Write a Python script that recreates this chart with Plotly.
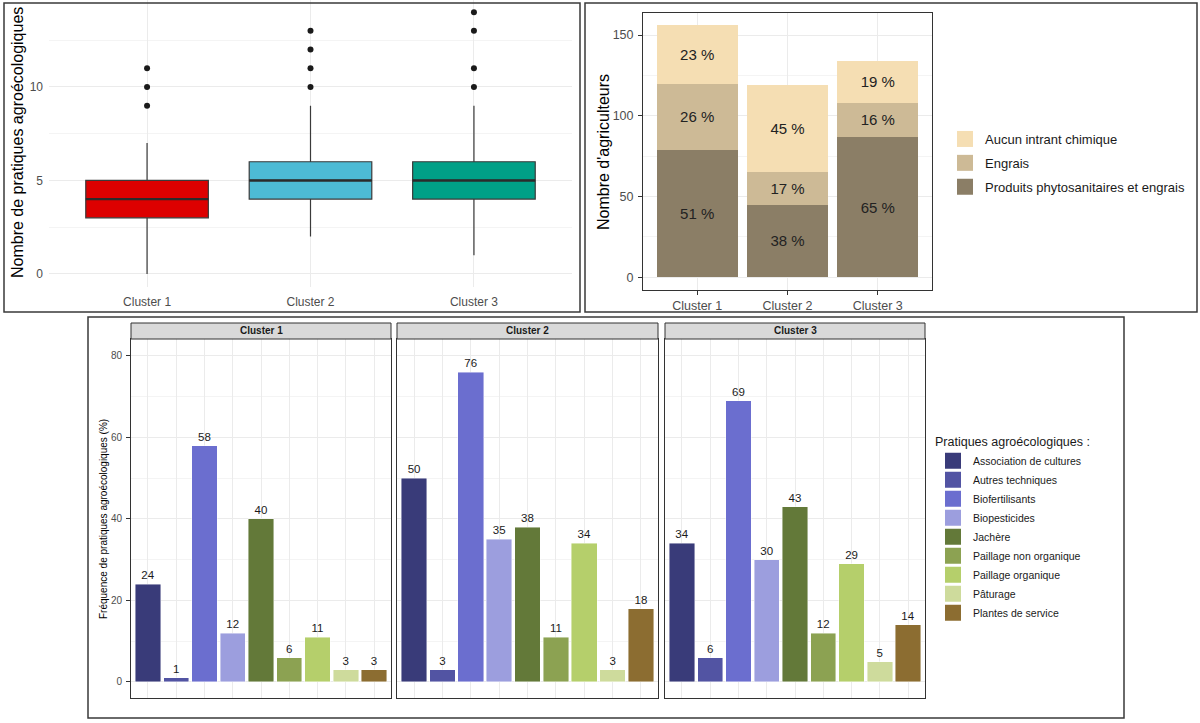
import plotly.graph_objects as go

W, H = 1200, 723


def px(x):
    return x / W


def py(y):
    return 1 - y / H


FONT = "Liberation Sans, Arial, sans-serif"

# ---------------- Data ----------------
clusters = ["Cluster 1", "Cluster 2", "Cluster 3"]

# Box plot (number of agroecological practices)
box_low = [0, 2, 1]
box_q1 = [3, 4, 4]
box_median = [4, 5, 5]
box_q3 = [5, 6, 6]
box_high = [7, 9, 9]
outliers_c1 = [9, 10, 11]
outliers_c2 = [10, 11, 12, 13]
outliers_c3 = [10, 11, 13, 14]
box_colors = ["#DD0000", "#4DBBD5", "#00A087"]

# Stacked bars (number of farmers by chemical input use)
input_types = ["Produits phytosanitaires et engrais", "Engrais", "Aucun intrant chimique"]
n_produits = [79, 45, 87]
n_engrais = [41, 20, 21]
n_aucun = [36, 54, 26]
input_colors = ["#8B7E66", "#CDBA96", "#F5DEB3"]

# Faceted bars (frequency of agroecological practices, %)
practices = [
    "Association de cultures",
    "Autres techniques",
    "Biofertilisants",
    "Biopesticides",
    "Jachère",
    "Paillage non organique",
    "Paillage organique",
    "Pâturage",
    "Plantes de service",
]
freq_c1 = [24, 1, 58, 12, 40, 6, 11, 3, 3]
freq_c2 = [50, 3, 76, 35, 38, 11, 34, 3, 18]
freq_c3 = [34, 6, 69, 30, 43, 12, 29, 5, 14]
practice_colors = ["#393B79", "#5254A3", "#6B6ECF", "#9C9EDE", "#637939",
                   "#8CA252", "#B5CF6B", "#CEDB9C", "#8C6D31"]

fig = go.Figure()

# ---------------- Top-left: box plots ----------------
BOX_W = 0.75
pos = list(range(len(clusters)))
for i in pos:
    fig.add_trace(go.Box(
        x=[i], q1=[box_q1[i]], median=[box_median[i]], q3=[box_q3[i]],
        lowerfence=[box_low[i]], upperfence=[box_high[i]], width=BOX_W,
        fillcolor=box_colors[i], line=dict(color="#3A3A3A", width=1.2),
        whiskerwidth=0, boxpoints=False, showlegend=False,
        xaxis="x", yaxis="y", hoverinfo="skip",
    ))

# thicker median bars (as in ggplot)
med_x, med_y = [], []
for i in pos:
    med_x += [i - BOX_W / 2, i + BOX_W / 2, None]
    med_y += [box_median[i], box_median[i], None]
fig.add_trace(go.Scatter(
    x=med_x, y=med_y, mode="lines", line=dict(color="#2B2B2B", width=2.4),
    showlegend=False, xaxis="x", yaxis="y", hoverinfo="skip",
))

out_x, out_y = [], []
for i, vals in zip(pos, [outliers_c1, outliers_c2, outliers_c3]):
    out_x += [i] * len(vals)
    out_y += vals
fig.add_trace(go.Scatter(
    x=out_x, y=out_y, mode="markers",
    marker=dict(color="#1A1A1A", size=6), showlegend=False,
    xaxis="x", yaxis="y", hoverinfo="skip",
))

# ---------------- Top-right: stacked bars ----------------
totals = [a + b + c for a, b, c in zip(n_produits, n_engrais, n_aucun)]
for name, vals, col in zip(input_types, [n_produits, n_engrais, n_aucun], input_colors):
    fig.add_trace(go.Bar(
        x=clusters, y=vals, marker=dict(color=col, line=dict(width=0)),
        text=[f"{round(v / t * 100)} %" for v, t in zip(vals, totals)],
        textposition="inside", insidetextanchor="middle",
        textfont=dict(size=15, color="#222222", family=FONT),
        constraintext="none", showlegend=False, name=name,
        xaxis="x2", yaxis="y2", hoverinfo="skip",
    ))

# legend entries (top-right), top to bottom
for name, col in zip(input_types[::-1], input_colors[::-1]):
    fig.add_trace(go.Scatter(
        x=[None], y=[None], mode="markers", name=name,
        marker=dict(symbol="square", size=16, color=col),
        legend="legend", legendgroup=name, showlegend=True,
        xaxis="x2", yaxis="y2", hoverinfo="skip",
    ))

# ---------------- Bottom: faceted bars ----------------
for k, vals in enumerate([freq_c1, freq_c2, freq_c3]):
    ax = str(k + 3)
    fig.add_trace(go.Bar(
        x=practices, y=vals,
        marker=dict(color=practice_colors, line=dict(width=0.8, color="rgba(255,255,255,0.55)")),
        text=[str(v) for v in vals], textposition="outside",
        textfont=dict(size=11.5, color="#1A1A1A", family=FONT),
        cliponaxis=False, showlegend=False,
        xaxis="x" + ax, yaxis="y" + ax, hoverinfo="skip",
    ))

for name, col in zip(practices, practice_colors):
    fig.add_trace(go.Scatter(
        x=[None], y=[None], mode="markers", name=name,
        marker=dict(symbol="square", size=16, color=col),
        legend="legend2", showlegend=True,
        xaxis="x3", yaxis="y3", hoverinfo="skip",
    ))

# ---------------- Layout ----------------
GRID = "#EBEBEB"
MINOR = "#F4F4F4"
TICKC = "#4D4D4D"

layout = dict(
    width=W, height=H,
    margin=dict(l=0, r=0, t=0, b=0),
    paper_bgcolor="white", plot_bgcolor="white",
    font=dict(family=FONT, color="#1A1A1A"),
    barmode="stack", bargap=0.1,
    xaxis=dict(
        domain=[px(49), px(572)], tickvals=pos, ticktext=clusters,
        range=[-0.6, 2.6], showgrid=True, gridcolor=GRID,
        zeroline=False, showline=False, ticks="", ticklabelstandoff=6,
        tickfont=dict(size=12, color=TICKC), anchor="y",
    ),
    yaxis=dict(
        domain=[py(287), py(0)], range=[-0.7, 14.65], tickvals=[0, 5, 10],
        showgrid=True, gridcolor=GRID, zeroline=False, showline=False,
        ticks="", ticklabelstandoff=5, tickfont=dict(size=12, color=TICKC),
        minor=dict(tickvals=[2.5, 7.5, 12.5], showgrid=True, gridcolor=MINOR),
        anchor="x",
    ),
    xaxis2=dict(
        domain=[px(643), px(932)], type="category", categoryorder="array",
        categoryarray=clusters, range=[-0.6, 2.6], showgrid=True, gridcolor=GRID,
        zeroline=False, showline=True, mirror=True, linecolor="#333333", linewidth=1,
        ticks="outside", ticklen=4, tickcolor="#333333", ticklabelstandoff=0,
        tickfont=dict(size=12.5, color=TICKC), anchor="y2",
    ),
    yaxis2=dict(
        domain=[py(290), py(13)], range=[-7.86, 163.7], tickvals=[0, 50, 100, 150],
        showgrid=True, gridcolor=GRID, zeroline=False, showline=True, mirror=True,
        linecolor="#333333", linewidth=1, ticks="outside", ticklen=4,
        tickcolor="#333333", ticklabelstandoff=2, tickfont=dict(size=12.5, color=TICKC),
        minor=dict(tickvals=[25, 75, 125], showgrid=True, gridcolor=MINOR),
        anchor="x2",
    ),
    legend=dict(
        x=px(945), y=py(124), xanchor="left", yanchor="top",
        traceorder="grouped", tracegroupgap=4, itemwidth=30,
        font=dict(size=13, color="#1A1A1A", family=FONT),
        bgcolor="rgba(0,0,0,0)",
    ),
    legend2=dict(
        x=px(933), y=py(430), xanchor="left", yanchor="top",
        traceorder="normal", tracegroupgap=0, itemwidth=30,
        title=dict(text="Pratiques agroécologiques :", font=dict(size=12.5, color="#1A1A1A")),
        font=dict(size=10.5, color="#1A1A1A", family=FONT),
        bgcolor="rgba(0,0,0,0)",
    ),
)

facet_x = [(131, 391), (397, 658), (665, 925)]
for k, (x0, x1) in enumerate(facet_x):
    n = k + 3
    layout[f"xaxis{n}"] = dict(
        domain=[px(x0), px(x1)], type="category", categoryorder="array",
        categoryarray=practices, range=[-0.6, 8.6], showgrid=True, gridcolor=GRID,
        zeroline=False, showline=True, mirror=True, linecolor="#333333", linewidth=1,
        ticks="", showticklabels=False, anchor=f"y{n}",
    )
    layout[f"yaxis{n}"] = dict(
        domain=[py(698), py(339)], range=[-3.93, 84.17], tickvals=[0, 20, 40, 60, 80],
        showgrid=True, gridcolor=GRID, zeroline=False, showline=True, mirror=True,
        linecolor="#333333", linewidth=1,
        ticks="outside" if k == 0 else "", ticklen=4, tickcolor="#333333",
        showticklabels=(k == 0), ticklabelstandoff=2,
        tickfont=dict(size=10, color=TICKC), anchor=f"x{n}",
        minor=dict(tickvals=[10, 30, 50, 70], showgrid=True, gridcolor=MINOR),
    )

fig.update_layout(**layout)

# ---------------- Decorations ----------------
shapes = []
# outer frames around the three sub-figures
for (x0, y0, x1, y1) in [(4, 3, 580, 312), (585, 3, 1197, 312), (88, 317, 1124, 718)]:
    shapes.append(dict(type="rect", xref="paper", yref="paper",
                       x0=px(x0), x1=px(x1), y0=py(y1), y1=py(y0),
                       line=dict(color="#3A3A3A", width=1.5), fillcolor="rgba(0,0,0,0)"))
annotations = []
strip_h = 16 / (698 - 339)
for k, c in enumerate(clusters):
    n = k + 3
    shapes.append(dict(type="rect", xref=f"x{n} domain", yref=f"y{n} domain",
                       x0=0, x1=1, y0=1, y1=1 + strip_h,
                       fillcolor="#D9D9D9", line=dict(color="#333333", width=1)))
    annotations.append(dict(text=c, xref=f"x{n} domain", yref=f"y{n} domain",
                            x=0.5, y=1 + strip_h / 2, showarrow=False,
                            font=dict(size=10, color="#1A1A1A", family=FONT, weight="bold"),
                            xanchor="center", yanchor="middle"))

annotations += [
    dict(text="Nombre de pratiques agroécologiques", xref="paper", yref="paper",
         x=px(18), y=py(143), textangle=-90, showarrow=False,
         font=dict(size=16, color="#000000"), xanchor="center", yanchor="middle"),
    dict(text="Nombre d'agriculteurs", xref="paper", yref="paper",
         x=px(603), y=py(152), textangle=-90, showarrow=False,
         font=dict(size=16, color="#000000"), xanchor="center", yanchor="middle"),
    dict(text="Fréquence de pratiques agroécologiques (%)", xref="paper", yref="paper",
         x=px(103), y=py(519), textangle=-90, showarrow=False,
         font=dict(size=10, color="#000000"), xanchor="center", yanchor="middle"),
]

fig.update_layout(shapes=shapes, annotations=annotations)

fig.write_html("out.html")
